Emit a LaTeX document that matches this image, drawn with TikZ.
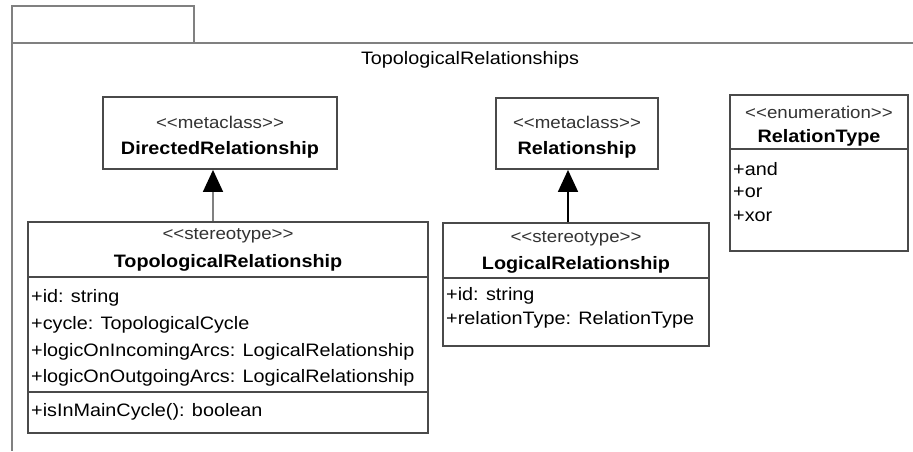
\documentclass[tikz,border=0pt]{standalone}
\usepackage{fontspec}
\setmainfont{Liberation Sans}[FakeStretch=1.1]
\usetikzlibrary{arrows.meta}
\definecolor{marco}{HTML}{808080}
\definecolor{borde}{HTML}{4A4A4A}
\newcommand{\estr}[1]{<\kern0pt<#1>\kern0pt>}
\begin{document}
\begin{tikzpicture}[x=1pt, y=-1pt,
    clase/.style={rectangle, draw=borde, line width=1.8pt, fill=white, inner sep=0pt},
    estereo/.style={font=\fontsize{17}{19}\selectfont, text=black!80, inner sep=0pt},
    nombre/.style={font=\fontsize{18}{20}\selectfont\bfseries, inner sep=0pt},
    atributo/.style={font=\fontsize{18}{20}\selectfont, anchor=west, inner sep=0pt},
    separador/.style={draw=borde, line width=1.5pt},
    herencia/.style={-{Triangle[width=20pt, length=22pt, color=black]}, line width=1.5pt}]

        \useasboundingbox (0,0) rectangle (913,451);

        % Paquete
        \node[rectangle, draw=marco, line width=1.5pt, minimum width=182pt, minimum height=37pt, inner sep=0pt] (tab) at (103,24.5) {};
        \coordinate (esq) at (12,43);
        \draw[draw=marco, line width=1.5pt] (913,43) -- (esq) -- (12,451);
        \node[font=\fontsize{18}{20}\selectfont, inner sep=0pt] (titulo) at (470,60) {TopologicalRelationships};

        % Metaclases
        \node[clase, minimum width=234pt, minimum height=72pt] (dir) at (220,133) {};
        \node[estereo] (dirS) at (220,122) {\estr{metaclass}};
        \node[nombre] (dirN) at (220,150) {DirectedRelationship};

        \node[clase, minimum width=162pt, minimum height=71pt] (rel) at (577,133.5) {};
        \node[estereo] (relS) at (577,122) {\estr{metaclass}};
        \node[nombre] (relN) at (577,150) {Relationship};

        % Estereotipos
        \node[clase, minimum width=400pt, minimum height=211pt] (topo) at (228,327.5) {};
        \node[estereo] (topoS) at (228,236) {\estr{stereotype}};
        \node[nombre] (topoN) at (228,263) {TopologicalRelationship};
        \draw[separador] (topo.west |- 0,277) -- (topo.east |- 0,277);
        \node[atributo] (topoA1) at (31,298) {+id: string};
        \node[atributo] (topoA2) at (31,325) {+cycle: TopologicalCycle};
        \node[atributo] (topoA3) at (31,352) {+logicOnIncomingArcs: LogicalRelationship};
        \node[atributo] (topoA4) at (31,378) {+logicOnOutgoingArcs: LogicalRelationship};
        \draw[separador] (topo.west |- 0,392) -- (topo.east |- 0,392);
        \node[atributo] (topoO1) at (31,412) {+isInMainCycle(): boolean};

        \node[clase, minimum width=266pt, minimum height=123pt] (logic) at (576,284.5) {};
        \node[estereo] (logicS) at (576,239) {\estr{stereotype}};
        \node[nombre] (logicN) at (576,265) {LogicalRelationship};
        \draw[separador] (logic.west |- 0,278) -- (logic.east |- 0,278);
        \node[atributo] (logicA1) at (446,296) {+id: string};
        \node[atributo] (logicA2) at (446,320) {+relationType: RelationType};

        % Enumeracion
        \node[clase, minimum width=178pt, minimum height=156pt] (rtype) at (819,173) {};
        \node[estereo] (rtypeS) at (819,112) {\estr{enumeration}};
        \node[nombre] (rtypeN) at (819,138) {RelationType};
        \draw[separador] (rtype.west |- 0,149) -- (rtype.east |- 0,149);
        \node[atributo] (rtypeL1) at (733,169) {+and};
        \node[atributo] (rtypeL2) at (733,192) {+or};
        \node[atributo] (rtypeL3) at (733,216) {+xor};

        % Generalizaciones
        \draw[herencia, draw=marco] (topo.north -| 213,0) -- (dir.south -| 213,0);
        \draw[herencia] (logic.north -| 568,0) -- (rel.south -| 568,0);

    \end{tikzpicture}
\end{document}
